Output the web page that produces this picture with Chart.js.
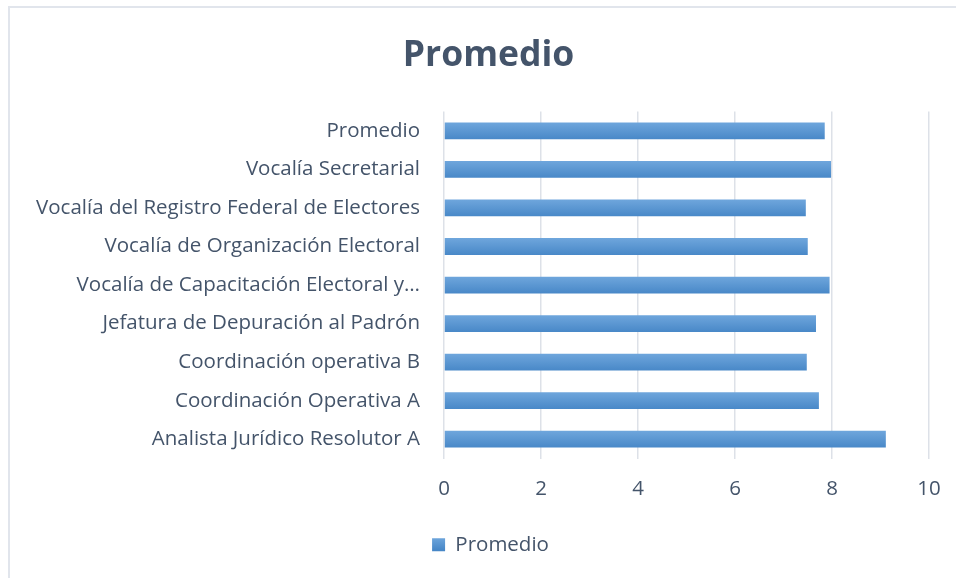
<!DOCTYPE html>
<html>
<head>
<meta charset="utf-8">
<script src="https://cdn.jsdelivr.net/npm/chart.js@4/dist/chart.umd.min.js"></script>
<style>
  html, body { margin: 0; padding: 0; background: #ffffff; }
  #wrap { position: relative; width: 956px; height: 578px; overflow: hidden; }
  #frame { position: absolute; left: 8px; top: 6px; width: 1000px; height: 700px;
           border-left: 2px solid #e1e5ec; border-top: 2px solid #e1e5ec; box-sizing: border-box; }
  canvas { position: absolute; left: 0; top: 0; }
</style>
</head>
<body>
<div id="wrap">
  <div id="frame"></div>
  <canvas id="c" width="956" height="578"></canvas>
</div>
<script>
const categories = [
  "Promedio",
  "Vocalía Secretarial",
  "Vocalía del Registro Federal de Electores",
  "Vocalía de Organización Electoral",
  "Vocalía de Capacitación Electoral y…",
  "Jefatura de Depuración al Padrón",
  "Coordinación operativa B",
  "Coordinación Operativa A",
  "Analista Jurídico Resolutor A"
];
const promedioValues = [7.85, 7.98, 7.46, 7.50, 7.95, 7.67, 7.48, 7.73, 9.11];
const seriesName = "Promedio";
const chartTitle = "Promedio";
const xTicks = [0, 2, 4, 6, 8, 10];

const textColor = "#44546A";
const fontFamily = "'Open Sans', Lato, sans-serif";

function barFill(ctx) {
  const chart = ctx.chart;
  const ys = chart.scales && chart.scales.y;
  if (!ys || ctx.dataIndex == null) return "#5B9BD5";
  const cy = ys.getPixelForValue(ctx.dataIndex);
  if (!isFinite(cy)) return "#5B9BD5";
  const g = chart.ctx.createLinearGradient(0, cy - 9, 0, cy + 9);
  g.addColorStop(0, "#70A7DD");
  g.addColorStop(1, "#4787C7");
  return g;
}

function legendFill(chart) {
  const g = chart.ctx.createLinearGradient(0, 537, 0, 550);
  g.addColorStop(0, "#70A7DD");
  g.addColorStop(1, "#4787C7");
  return g;
}

// Title and legend are centred on the whole chart frame, which sits a little right of the canvas centre
const shiftBlocks = {
  id: "shiftBlocks",
  afterLayout(chart) {
    if (chart.titleBlock) { chart.titleBlock.left += 14; chart.titleBlock.right += 14; }
    if (chart.legend) { chart.legend.left += 16; chart.legend.right += 16; }
  }
};

new Chart(document.getElementById("c"), {
  type: "bar",
  data: {
    labels: categories,
    datasets: [{
      label: seriesName,
      data: promedioValues,
      backgroundColor: barFill,
      borderWidth: 0,
      categoryPercentage: 1,
      barPercentage: 0.435
    }]
  },
  plugins: [shiftBlocks],
  options: {
    indexAxis: "y",
    responsive: false,
    animation: false,
    devicePixelRatio: 1,
    layout: { padding: { left: 20, right: 27, top: 0, bottom: 13 } },
    plugins: {
      title: {
        display: true,
        text: chartTitle,
        color: textColor,
        font: { family: fontFamily, size: 35.5, weight: "bold" },
        padding: { top: 35, bottom: 34 }
      },
      legend: {
        display: true,
        position: "bottom",
        labels: {
          color: textColor,
          font: { family: fontFamily, size: 20.5 },
          boxWidth: 13,
          boxHeight: 13,
          padding: 10,
          generateLabels: (chart) => {
            const items = Chart.defaults.plugins.legend.labels.generateLabels(chart);
            items.forEach(it => { it.fillStyle = legendFill(chart); it.lineWidth = 0; });
            return items;
          }
        }
      },
      tooltip: { enabled: false }
    },
    scales: {
      x: {
        min: 0,
        max: 10,
        afterBuildTicks: (s) => { s.ticks = xTicks.map(v => ({ value: v })); },
        afterFit: (s) => { s.height = 66; s.paddingLeft = 0; s.paddingRight = 0; },
        ticks: { color: textColor, font: { family: fontFamily, size: 20.5 }, padding: 18 },
        grid: { color: "#dde1e8", lineWidth: 1.5, drawTicks: false },
        border: { display: false }
      },
      y: {
        afterFit: (s) => { s.width = 424; s.paddingTop = 0; s.paddingBottom = 0; },
        ticks: { color: textColor, font: { family: fontFamily, size: 20.5 }, padding: 24, autoSkip: false },
        grid: { display: false, drawTicks: false },
        border: { display: false }
      }
    }
  }
});
</script>
</body>
</html>
